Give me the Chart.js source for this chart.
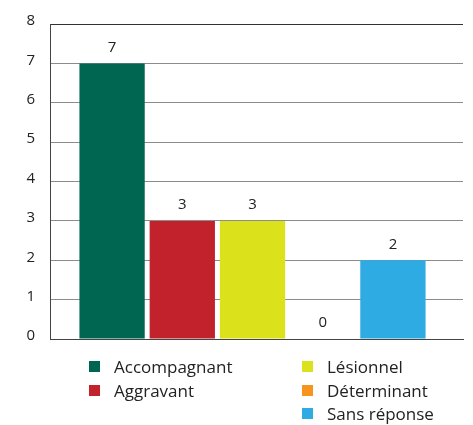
<!DOCTYPE html>
<html>
<head>
<meta charset="utf-8">
<script src="https://cdn.jsdelivr.net/npm/chart.js@4"></script>
<style>
  html, body { margin: 0; padding: 0; background: #fff; }
  body { width: 473px; height: 425px; position: relative; overflow: hidden; font-family: "Open Sans", sans-serif; }
  #wrap { position: absolute; left: 0; top: 0; width: 473px; height: 363px; }
  #legend { position: absolute; left: 0; top: 0; width: 473px; height: 425px; pointer-events: none; }
  .item { position: absolute; display: flex; align-items: center; font-size: 17px; color: #222; white-space: nowrap; }
  .sw { width: 11px; height: 11px; margin-right: 14px; flex: none; }
</style>
</head>
<body>
<div id="wrap"><canvas id="c"></canvas></div>
<div id="legend"></div>
<script>
// Data
const seriesNames = ["Accompagnant", "Aggravant", "Lésionnel", "Déterminant", "Sans réponse"];
const seriesValues = [7, 3, 3, 0, 2];
const seriesColors = ["#006652", "#C1222B", "#DBE11B", "#F7941D", "#2EABE2"];
const yTicks = [0, 1, 2, 3, 4, 5, 6, 7, 8];

const GROUP_SHIFT = -4; // bar group sits slightly left of centre in the reference

const datasets = seriesNames.map((n, i) => ({
  label: n,
  data: [seriesValues[i]],
  backgroundColor: seriesColors[i],
  borderWidth: 0,
  categoryPercentage: 0.85,
  barPercentage: 0.93
}));

const shiftBars = {
  id: 'shiftBars',
  beforeDatasetsDraw(chart) { chart.ctx.save(); chart.ctx.translate(GROUP_SHIFT, 0); },
  afterDatasetsDraw(chart) {
    const ctx = chart.ctx;
    ctx.font = '15px "Open Sans", sans-serif';
    ctx.fillStyle = '#222';
    ctx.textAlign = 'center';
    ctx.textBaseline = 'middle';
    chart.data.datasets.forEach((ds, i) => {
      const meta = chart.getDatasetMeta(i);
      meta.data.forEach((el, j) => {
        ctx.fillText(String(ds.data[j]), el.x, el.y - 16);
      });
    });
    ctx.restore();
  }
};

new Chart(document.getElementById('c'), {
  type: 'bar',
  data: { labels: [''], datasets },
  options: {
    responsive: true,
    maintainAspectRatio: false,
    animation: false,
    layout: { padding: { left: 0, top: 24, right: 10, bottom: 0 } },
    plugins: { legend: { display: false }, tooltip: { enabled: false } },
    scales: {
      x: {
        grid: { display: false, drawTicks: false },
        border: { display: true, color: '#444', width: 1 },
        ticks: { display: false },
        afterFit(s) { s.height = 1; }
      },
      y: {
        min: 0, max: 8,
        afterBuildTicks(s) { s.ticks = yTicks.map(v => ({ value: v })); },
        afterFit(s) { s.width = 50; },
        grid: {
          drawTicks: false,
          color: ctx => ctx.tick && ctx.tick.value === 8 ? '#333' : '#8c8c8c',
          lineWidth: 1
        },
        border: { display: true, color: '#444', width: 1 },
        ticks: {
          padding: 15,
          labelOffset: -3,
          color: '#222',
          font: { family: '"Open Sans", sans-serif', size: 15 }
        }
      }
    }
  },
  plugins: [shiftBars]
});

// Legend (two columns, as in the reference)
const legendPos = [[0, 0], [0, 1], [1, 0], [1, 1], [1, 2]];
const colX = [89, 302];
const legend = document.getElementById('legend');
seriesNames.forEach((n, i) => {
  const d = document.createElement('div');
  d.className = 'item';
  d.style.left = colX[legendPos[i][0]] + 'px';
  d.style.top = (355 + legendPos[i][1] * 23.5) + 'px';
  const sw = document.createElement('span');
  sw.className = 'sw';
  sw.style.background = seriesColors[i];
  const t = document.createElement('span');
  t.textContent = n;
  d.appendChild(sw); d.appendChild(t);
  legend.appendChild(d);
});
</script>
</body>
</html>
